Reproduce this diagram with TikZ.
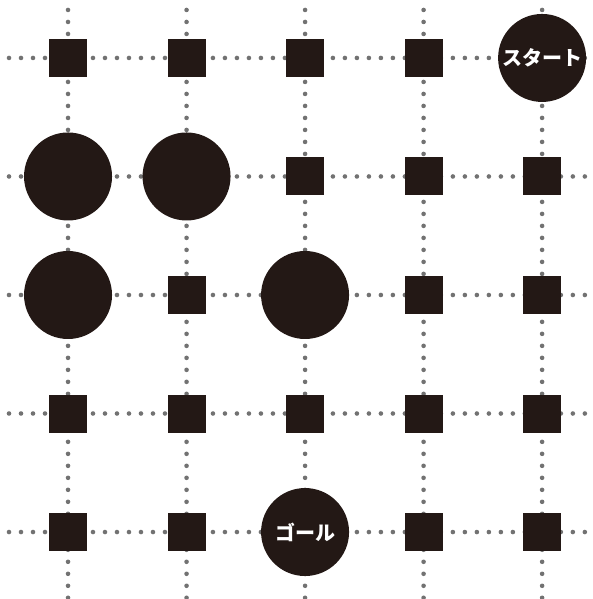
\documentclass[tikz,border=0pt]{standalone}
\usepackage{fontspec}
\newfontfamily\jpfont{Noto Sans CJK JP Black}
\definecolor{inkblack}{HTML}{231815}
\definecolor{dotgray}{HTML}{727272}
\begin{document}
\begin{tikzpicture}[x=2cm,y=2cm,
		sq/.style={fill=inkblack,minimum size=0.641cm,inner sep=0pt},
		bigdot/.style={circle,fill=inkblack,minimum size=1.485cm,inner sep=0pt},
		dotline/.style={dotgray,line width=2.2pt,line cap=round,dash pattern=on 0pt off 5.76pt},
		jptext/.style={text=white,font=\jpfont\fontsize{9.6}{10}\selectfont}]
		\useasboundingbox (-0.574,-0.565) rectangle (4.422,4.489);
		% dotted grid
		\foreach \k in {0,...,4}{
			\draw[dotline] (-0.498,\k)--(4.422,\k);
			\draw[dotline] (\k,4.405)--(\k,-0.565);
		}
		% squares
		\foreach \x/\y in {0/4,1/4,2/4,3/4,2/3,3/3,4/3,1/2,3/2,4/2,0/1,1/1,2/1,3/1,4/1,0/0,1/0,3/0,4/0}
			\node[sq] (sq-\x-\y) at (\x,\y) {};
		% big circles
		\foreach \x/\y in {0/3,1/3,0/2,2/2}
			\node[bigdot] (c-\x-\y) at (\x,\y) {};
		\node[bigdot,jptext] (start) at (4,4) {スタート};
		\node[bigdot,jptext] (goal) at (2,0) {ゴール};
\end{tikzpicture}
\end{document}
